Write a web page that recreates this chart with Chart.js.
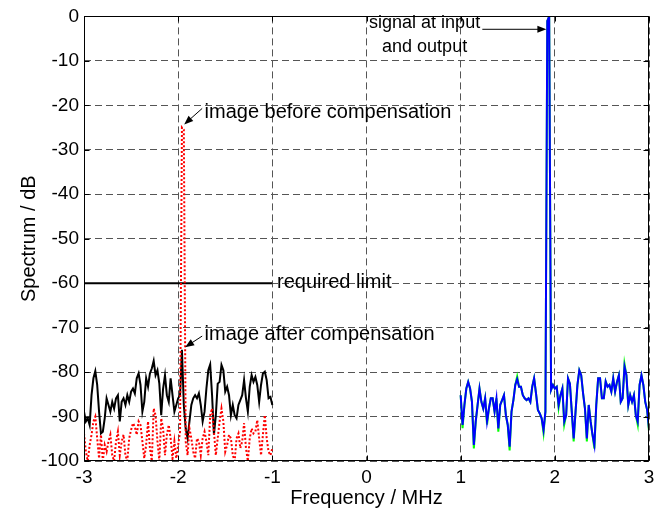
<!DOCTYPE html>
<html>
<head>
<meta charset="utf-8">
<title>Spectrum</title>
<script src="https://cdn.jsdelivr.net/npm/chart.js@4/dist/chart.umd.min.js"></script>
<style>
    html, body { margin: 0; padding: 0; background: #fff; }
    #wrap { width: 664px; height: 512px; position: relative; }
</style>
</head>
<body>
<div id="wrap"><canvas id="spectrumChart"></canvas></div>
<script>
// frequency grid of the traces (MHz)
const FREQ_STEP = 0.02;
const IMAGE_START = -3;
const SIGNAL_START = 1;

// image band, -3 .. -1 MHz
const imageAfter = [
    -88.9, -91.1, -90.4, -91.9, -85.2, -81.4, -79.8, -82.9, -88.9, -93.8,
    -93.4, -90.4, -85.9, -87.4, -88.9, -86.7, -88.2, -85.9, -85.2, -91.1,
    -86.7, -85.9, -87.4, -85.2, -86.7, -84.4, -83.7, -84.8, -81.4, -80.3,
    -82.9, -88.9, -86.7, -81.4, -83.3, -80.3, -79.2, -77.5, -80.7, -79.6,
    -82.6, -89.7, -83.7, -80.7, -85.2, -86.7, -81.4, -85.2, -88.9, -87.4,
    -85.9, -85.2, -75.0, -87.4, -92.7, -94.9, -91.1, -87.4, -85.9, -85.2,
    -85.9, -84.8, -87.4, -91.1, -88.9, -83.7, -79.6, -78.3, -85.2, -94.1,
    -89.7, -82.6, -82.2, -78.4, -79.6, -84.4, -83.3, -85.2, -89.7, -87.4,
    -89.7, -90.4, -87.4, -86.3, -85.2, -81.8, -85.9, -88.9, -83.3, -80.7,
    -82.2, -81.1, -82.9, -86.7, -82.9, -80.3, -79.9, -81.8, -85.9, -85.6,
    -87.4
];

const imageBefore = [
    -93.8, -97.9, -100, -96.4, -94.1, -91.1, -90.0, -94.9, -99.4, -94.1,
    -100, -96.4, -97.9, -95.6, -94.1, -98.7, -100, -95.6, -93.4, -98.7,
    -95.6, -94.1, -98.7, -100, -94.9, -93.0, -91.5, -92.3, -94.1, -91.1,
    -91.9, -95.6, -99.4, -96.4, -91.1, -97.1, -100, -88.2, -89.7, -95.6,
    -100, -90.4, -92.7, -98.7, -94.1, -91.9, -94.9, -99.4, -95.6, -99.4,
    -96.4, -93.4, -25.0, -25.5, -95.6, -98.7, -92.7, -94.9, -97.9, -99.4,
    -94.9, -95.6, -98.7, -94.9, -93.4, -95.6, -98.7, -89.7, -88.2, -93.4,
    -98.7, -94.9, -91.1, -88.2, -91.1, -97.9, -96.4, -94.1, -94.9, -98.7,
    -100, -94.9, -93.8, -97.1, -95.6, -91.5, -97.1, -100, -94.9, -92.7,
    -93.8, -93.4, -90.8, -94.9, -98.7, -94.1, -89.7, -94.9, -97.9, -98.7,
    -97.1
];

// required limit
const limitFreq = [-3, -1];
const limitLevel = [-60, -60];

// signal band, 1 .. 3 MHz
const signalOutput = [
    -85.2, -91.9, -87.4, -83.7, -82.2, -83.7, -86.7, -96.4, -91.1, -87.4,
    -83.7, -86.7, -88.2, -85.9, -91.1, -88.2, -85.9, -85.9, -88.9, -85.9,
    -92.7, -87.4, -86.3, -85.2, -89.7, -91.9, -96.8, -88.9, -86.3, -82.9,
    -81.6, -83.3, -83.3, -85.2, -85.9, -86.3, -85.9, -86.7, -83.3, -81.4,
    -84.8, -88.5, -89.3, -90.4, -93.0, -88.9, -1.0, 0, -84.0, -82.9,
    -83.7, -83.3, -87.4, -85.2, -83.7, -91.1, -89.7, -81.4, -82.6, -88.9,
    -94.9, -88.9, -82.9, -79.6, -80.7, -84.8, -88.2, -94.9, -87.4, -91.1,
    -94.1, -96.4, -87.4, -81.4, -81.4, -85.9, -85.9, -82.1, -83.3, -82.9,
    -84.4, -81.4, -84.4, -82.2, -80.7, -86.7, -85.9, -78.8, -80.7, -87.4,
    -85.2, -86.7, -85.2, -89.7, -91.1, -82.9, -80.7, -82.9, -86.7, -88.5,
    -92.7
];

const signalInput = [
    -85.2, -92.6, -87.4, -83.7, -82.2, -83.7, -86.7, -97.2, -91.1, -87.4,
    -83.7, -86.7, -88.2, -85.9, -91.8, -88.2, -85.9, -85.9, -88.9, -85.9,
    -93.4, -87.4, -86.3, -85.2, -89.7, -91.9, -97.6, -88.9, -86.3, -82.9,
    -81.0, -83.3, -83.3, -85.2, -85.9, -86.3, -85.9, -86.7, -83.3, -81.4,
    -84.8, -88.5, -89.3, -90.4, -93.7, -88.9, -1.0, 0, -84.0, -82.9,
    -83.7, -83.3, -88.0, -85.2, -83.7, -91.8, -89.7, -81.4, -82.6, -88.9,
    -95.6, -88.9, -82.9, -79.6, -80.7, -84.8, -88.2, -95.6, -87.4, -91.1,
    -94.1, -97.2, -87.4, -81.4, -81.4, -85.9, -85.9, -82.1, -83.3, -82.9,
    -84.4, -81.4, -84.4, -82.2, -80.7, -86.7, -85.9, -78.2, -80.7, -87.4,
    -85.2, -86.7, -85.2, -89.7, -91.8, -82.9, -80.7, -82.9, -86.7, -88.5,
    -93.3
];

// axis ticks
const freqTicks = [-3, -2, -1, 0, 1, 2, 3];
const levelTicks = [0, -10, -20, -30, -40, -50, -60, -70, -80, -90, -100];

// annotation texts, anchored in data coordinates
const notes = [
    { text: "image before compensation", x: -1.72, y: -21.6, size: 20, align: "left" },
    { text: "image after compensation", x: -1.72, y: -71.5, size: 20, align: "left" },
    { text: "required limit", x: -0.95, y: -59.8, size: 20, align: "left" },
    { text: "signal at input", x: 0.617, y: -1.4, size: 18, align: "center" },
    { text: "and output", x: 0.617, y: -7.0, size: 18, align: "center" }
];
const arrows = [
    { from: [-1.745, -20.7], to: [-1.936, -24.3] },
    { from: [-1.745, -71.9], to: [-1.926, -74.4] },
    { from: [1.23, -2.9], to: [1.91, -2.9] }
];

const FONT = "'Liberation Sans', Arial, sans-serif";

function toPoints(start, values) {
    return values.map((v, i) => ({ x: Math.round((start + i * FREQ_STEP) * 100) / 100, y: v }));
}

function drawArrow(ctx, x0, y0, x1, y1) {
    const a = Math.atan2(y1 - y0, x1 - x0);
    const len = 9, half = 3.5;
    ctx.beginPath();
    ctx.moveTo(x0, y0);
    ctx.lineTo(x1 - 4 * Math.cos(a), y1 - 4 * Math.sin(a));
    ctx.stroke();
    ctx.beginPath();
    ctx.moveTo(x1, y1);
    ctx.lineTo(x1 - len * Math.cos(a) + half * Math.sin(a), y1 - len * Math.sin(a) - half * Math.cos(a));
    ctx.lineTo(x1 - len * Math.cos(a) - half * Math.sin(a), y1 - len * Math.sin(a) + half * Math.cos(a));
    ctx.closePath();
    ctx.fill();
}

const framePlugin = {
    id: "frameAndNotes",
    afterDatasetsDraw(chart) {
        const { ctx, chartArea, scales } = chart;
        const sx = scales.x, sy = scales.y;
        ctx.save();

        // box around the axes
        const l = Math.round(chartArea.left) + 0.5;
        const t = Math.round(chartArea.top) + 0.5;
        const r = Math.round(chartArea.right) - 0.5;
        const b = Math.round(chartArea.bottom) - 0.5;
        ctx.strokeStyle = "#000";
        ctx.lineWidth = 1;
        ctx.setLineDash([]);
        ctx.strokeRect(l, t, r - l, b - t);

        // inward tick marks
        ctx.beginPath();
        freqTicks.forEach(f => {
            const px = Math.round(sx.getPixelForValue(f)) + 0.5;
            ctx.moveTo(px, b); ctx.lineTo(px, b - 5);
            ctx.moveTo(px, t); ctx.lineTo(px, t + 5);
        });
        levelTicks.forEach(v => {
            const py = Math.round(sy.getPixelForValue(v)) + 0.5;
            ctx.moveTo(l, py); ctx.lineTo(l + 5, py);
            ctx.moveTo(r, py); ctx.lineTo(r - 5, py);
        });
        ctx.stroke();

        // annotations
        ctx.fillStyle = "#000";
        ctx.textBaseline = "middle";
        notes.forEach(n => {
            ctx.font = n.size + "px " + FONT;
            ctx.textAlign = n.align;
            ctx.fillText(n.text, sx.getPixelForValue(n.x), sy.getPixelForValue(n.y));
        });
        arrows.forEach(a => {
            drawArrow(ctx,
                sx.getPixelForValue(a.from[0]), sy.getPixelForValue(a.from[1]),
                sx.getPixelForValue(a.to[0]), sy.getPixelForValue(a.to[1]));
        });
        ctx.restore();
    }
};

const lineBase = { pointRadius: 0, tension: 0, fill: false };

new Chart(document.getElementById("spectrumChart"), {
    type: "line",
    data: {
        datasets: [
            Object.assign({
                label: "image before compensation",
                data: toPoints(IMAGE_START, imageBefore),
                borderColor: "#ff0000",
                borderWidth: 2,
                borderDash: [2, 2],
                order: 1
            }, lineBase),
            Object.assign({
                label: "image after compensation",
                data: toPoints(IMAGE_START, imageAfter),
                borderColor: "#000000",
                borderWidth: 2,
                order: 2
            }, lineBase),
            Object.assign({
                label: "required limit",
                data: limitFreq.map((f, i) => ({ x: f, y: limitLevel[i] })),
                borderColor: "#000000",
                borderWidth: 2,
                order: 3
            }, lineBase),
            Object.assign({
                label: "signal at input",
                data: toPoints(SIGNAL_START, signalInput),
                borderColor: "#00ff00",
                borderWidth: 2,
                order: 5
            }, lineBase),
            Object.assign({
                label: "signal at output",
                data: toPoints(SIGNAL_START, signalOutput),
                borderColor: "#0000ff",
                borderWidth: 2,
                order: 4
            }, lineBase)
        ]
    },
    options: {
        responsive: true,
        maintainAspectRatio: false,
        animation: false,
        devicePixelRatio: 1,
        layout: { padding: { left: 0, right: 15, top: 16, bottom: 0 } },
        plugins: {
            legend: { display: false },
            tooltip: { enabled: false }
        },
        scales: {
            x: {
                type: "linear",
                min: -3,
                max: 3,
                afterBuildTicks: s => { s.ticks = freqTicks.map(v => ({ value: v })); },
                afterFit: s => { s.height = 51; },
                grid: { color: "#555", lineWidth: 1, drawTicks: false },
                border: { display: false, dash: [7, 4] },
                ticks: {
                    color: "#000",
                    padding: 5,
                    maxRotation: 0,
                    font: { family: FONT, size: 19 }
                },
                title: {
                    display: true,
                    text: "Frequency / MHz",
                    color: "#000",
                    padding: { top: 0, bottom: 2 },
                    font: { family: FONT, size: 20 }
                }
            },
            y: {
                type: "linear",
                min: -100,
                max: 0,
                afterBuildTicks: s => { s.ticks = levelTicks.map(v => ({ value: v })); },
                afterFit: s => { s.width = 84; },
                grid: { color: "#555", lineWidth: 1, drawTicks: false },
                border: { display: false, dash: [7, 4] },
                ticks: {
                    color: "#000",
                    padding: 5,
                    font: { family: FONT, size: 19 }
                },
                title: {
                    display: true,
                    text: "Spectrum / dB",
                    color: "#000",
                    padding: { top: 17, bottom: 0 },
                    font: { family: FONT, size: 20 }
                }
            }
        }
    },
    plugins: [framePlugin]
});
</script>
</body>
</html>
